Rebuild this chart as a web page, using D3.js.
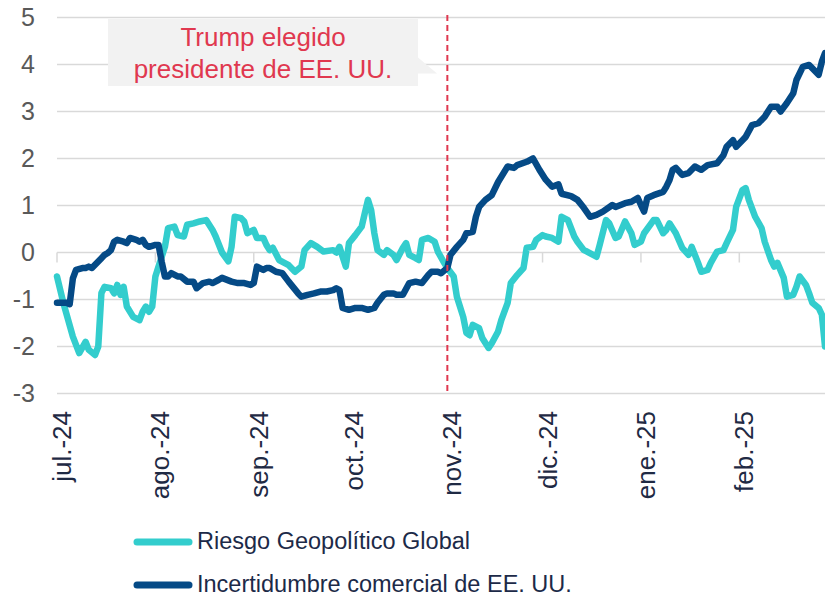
<!DOCTYPE html>
<html>
<head>
<meta charset="utf-8">
<script src="https://cdn.jsdelivr.net/npm/d3@7"></script>
<style>
  body { margin: 0; background: #fff; }
  svg { display: block; font-family: "Liberation Sans", Arial, sans-serif; }
</style>
</head>
<body>
<svg id="chart" width="825" height="596"></svg>
<script>
// day offsets counted from 1 jul. 2024
var START = new Date(2024, 6, 1);
var END = new Date(2025, 1, 28);

var riesgoDays = [0, 2, 5, 7, 9, 10, 12, 13, 14, 15, 17, 18, 19, 20, 21, 22, 24, 26, 27, 28, 29, 30, 31, 32, 34, 35, 37, 38, 40, 41, 43, 45, 47, 49, 50, 52, 54, 55, 56, 58, 59, 60, 62, 63, 65, 66, 67, 68, 70, 73, 75, 77, 78, 80, 82, 84, 87, 88, 89, 90, 91, 92, 94, 96, 97, 98, 99, 100, 101, 103, 104, 106, 107, 109, 110, 111, 113, 114, 115, 117, 119, 120, 122, 123, 125, 126, 128, 129, 130, 131, 133, 134, 136, 137, 139, 140, 142, 143, 145, 147, 148, 150, 151, 153, 154, 156, 158, 159, 161, 163, 164, 166, 167, 170, 171, 173, 174, 176, 177, 179, 181, 182, 184, 185, 188, 189, 191, 192, 193, 195, 197, 199, 200, 202, 203, 205, 206, 208, 210, 211, 213, 214, 216, 217, 218, 220, 222, 223, 225, 226, 227, 229, 230, 232, 233, 234, 236, 237, 238, 240, 241, 242];
var riesgoVals = [-0.51, -1.07, -1.79, -2.14, -1.9, -2.07, -2.18, -2.0, -0.86, -0.73, -0.76, -0.87, -0.69, -0.9, -0.73, -1.15, -1.37, -1.44, -1.26, -1.15, -1.26, -1.15, -0.51, -0.3, 0.12, 0.52, 0.55, 0.37, 0.34, 0.59, 0.62, 0.66, 0.69, 0.48, 0.34, 0.0, -0.19, 0.12, 0.76, 0.73, 0.66, 0.41, 0.48, 0.31, 0.31, 0.16, 0.05, 0.1, -0.16, -0.27, -0.41, -0.3, 0.05, 0.2, 0.12, 0.02, 0.05, 0.0, 0.12, -0.09, -0.3, 0.2, 0.37, 0.55, 0.84, 1.12, 0.9, 0.41, 0.05, -0.05, 0.05, -0.05, -0.16, 0.1, 0.2, -0.05, -0.12, -0.16, 0.27, 0.31, 0.23, 0.02, -0.22, -0.33, -0.51, -0.94, -1.37, -1.71, -1.76, -1.54, -1.61, -1.82, -2.03, -1.93, -1.68, -1.44, -1.07, -0.65, -0.48, -0.33, 0.1, 0.12, 0.27, 0.37, 0.34, 0.31, 0.23, 0.76, 0.69, 0.34, 0.23, 0.05, 0.02, -0.09, 0.16, 0.69, 0.62, 0.31, 0.34, 0.66, 0.41, 0.16, 0.23, 0.41, 0.69, 0.69, 0.41, 0.48, 0.62, 0.41, 0.1, -0.05, 0.12, -0.22, -0.41, -0.37, -0.22, 0.02, 0.05, 0.2, 0.48, 0.97, 1.33, 1.37, 1.12, 0.76, 0.52, 0.23, -0.16, -0.3, -0.22, -0.54, -0.94, -0.9, -0.73, -0.51, -0.69, -0.87, -1.07, -1.18, -1.32, -2.0];

var incertDays = [0, 3, 4, 5, 6, 8, 9, 10, 11, 13, 14, 15, 16, 17, 18, 19, 21, 22, 23, 25, 26, 27, 28, 29, 31, 32, 33, 34, 35, 36, 38, 39, 41, 43, 44, 46, 48, 49, 51, 52, 55, 57, 59, 61, 62, 63, 65, 66, 67, 69, 71, 73, 76, 77, 79, 81, 83, 85, 87, 88, 89, 90, 92, 94, 96, 98, 100, 101, 103, 104, 106, 107, 109, 111, 113, 115, 117, 118, 120, 121, 123, 124, 126, 128, 129, 131, 132, 133, 135, 137, 139, 142, 144, 145, 148, 150, 152, 154, 156, 158, 159, 162, 164, 166, 168, 170, 172, 175, 176, 179, 181, 183, 184, 185, 186, 188, 191, 192, 193, 194, 195, 197, 199, 201, 203, 205, 208, 210, 211, 213, 214, 216, 217, 219, 221, 223, 225, 227, 228, 230, 232, 233, 235, 237, 238, 240, 241, 242];
var incertVals = [-1.07, -1.07, -1.1, -0.55, -0.37, -0.33, -0.33, -0.3, -0.33, -0.19, -0.12, -0.05, -0.01, 0.05, 0.23, 0.27, 0.23, 0.2, 0.31, 0.27, 0.23, 0.27, 0.16, 0.12, 0.16, 0.16, -0.2, -0.51, -0.51, -0.44, -0.51, -0.51, -0.62, -0.62, -0.76, -0.65, -0.62, -0.65, -0.58, -0.54, -0.62, -0.65, -0.65, -0.69, -0.65, -0.3, -0.37, -0.33, -0.33, -0.41, -0.44, -0.62, -0.87, -0.94, -0.9, -0.87, -0.83, -0.83, -0.8, -0.76, -0.8, -1.18, -1.22, -1.18, -1.18, -1.22, -1.18, -1.07, -0.9, -0.87, -0.87, -0.9, -0.9, -0.65, -0.62, -0.65, -0.48, -0.41, -0.41, -0.44, -0.33, -0.05, 0.12, 0.27, 0.41, 0.44, 0.76, 0.97, 1.12, 1.22, 1.5, 1.83, 1.8, 1.86, 1.93, 2.0, 1.76, 1.55, 1.4, 1.45, 1.25, 1.2, 1.12, 0.95, 0.76, 0.8, 0.87, 1.01, 0.97, 1.05, 1.08, 1.16, 1.01, 0.87, 1.16, 1.22, 1.29, 1.4, 1.54, 1.76, 1.8, 1.65, 1.69, 1.83, 1.76, 1.86, 1.9, 2.07, 2.25, 2.39, 2.25, 2.39, 2.46, 2.71, 2.75, 2.89, 3.1, 3.1, 3.0, 3.18, 3.39, 3.67, 3.95, 3.99, 3.92, 3.78, 4.06, 4.24];

var yTicks = [5, 4, 3, 2, 1, 0, -1, -2, -3];
var monthLabels = ["jul.-24", "ago.-24", "sep.-24", "oct.-24", "nov.-24", "dic.-24", "ene.-25", "feb.-25"];
var electionDate = new Date(2024, 10, 1);
var noteLines = ["Trump elegido", "presidente de EE. UU."];
var seriesNames = ["Riesgo Geopolítico Global", "Incertidumbre comercial de EE. UU."];
var seriesColors = ["#33cdcd", "#054a86"];

function toSeries(days, vals) {
    return days.map(function (d, i) {
        return {date: d3.timeDay.offset(START, d), val: vals[i]};
    });
}
var riesgo = toSeries(riesgoDays, riesgoVals);
var incert = toSeries(incertDays, incertVals);

var svg = d3.select("#chart");
var x = d3.scaleTime().domain([START, END]).range([57, 825]);
var y = d3.scaleLinear().domain([-3, 5]).range([393.5, 17.5]);

// grid lines
svg.append("g").selectAll("line")
    .data(yTicks).enter().append("line")
    .attr("x1", 57).attr("x2", 825)
    .attr("y1", function (d) { return y(d); })
    .attr("y2", function (d) { return y(d); })
    .attr("stroke", "#d9d9d9").attr("stroke-width", 1.5);

// plain hyphen for negatives, like the original
var yAxis = d3.axisLeft(y).tickValues(yTicks).tickSize(0).tickPadding(0).tickFormat(function (d) { return String(d); });
var yG = svg.append("g").attr("transform", "translate(35,0)").call(yAxis);
yG.select(".domain").remove();
yG.selectAll("text")
    .attr("fill", "#595959")
    .style("font-size", "25px")
    .style("font-family", "Liberation Sans, Arial, sans-serif");

// month ticks hanging from the zero line + rotated labels
var months = d3.timeMonth.range(START, END);
svg.append("g").selectAll("line")
    .data(months).enter().append("line")
    .attr("x1", function (d) { return x(d); })
    .attr("x2", function (d) { return x(d); })
    .attr("y1", y(0)).attr("y2", y(0) + 10)
    .attr("stroke", "#d9d9d9").attr("stroke-width", 1.5);

svg.append("g").selectAll("text")
    .data(months).enter().append("text")
    .attr("transform", function (d) { return "translate(" + (x(d) + 14) + ",411) rotate(-90)"; })
    .attr("text-anchor", "end")
    .attr("fill", "#1f2a44")
    .style("font-size", "26px")
    .text(function (d, i) { return monthLabels[i]; });

// annotation box
var g = svg.append("g");
g.append("rect")
    .attr("x", 108).attr("y", 19).attr("width", 310).attr("height", 67)
    .attr("fill", "#f2f2f2");
g.append("path")
    .attr("d", "M418,57.5L437,73.5L418,73.5Z")
    .attr("fill", "#f2f2f2");
g.selectAll("text")
    .data(noteLines).enter().append("text")
    .attr("x", 263)
    .attr("y", function (d, i) { return 46 + i * 32; })
    .attr("text-anchor", "middle")
    .attr("fill", "#e0384f")
    .style("font-size", "26px")
    .text(function (d) { return d; });

var line = d3.line()
    .x(function (d) { return x(d.date); })
    .y(function (d) { return y(d.val); });

[riesgo, incert].forEach(function (s, i) {
    svg.append("path")
        .datum(s)
        .attr("d", line)
        .attr("fill", "none")
        .attr("stroke", seriesColors[i])
        .attr("stroke-width", 6.5)
        .attr("stroke-linejoin", "round")
        .attr("stroke-linecap", "round");
});

svg.append("line")
    .attr("x1", x(electionDate)).attr("x2", x(electionDate))
    .attr("y1", 15).attr("y2", 393)
    .attr("stroke", "#e0384f")
    .attr("stroke-width", 2)
    .attr("stroke-dasharray", "6,4");

// legend
var leg = svg.append("g").selectAll("g")
    .data(seriesNames).enter().append("g")
    .attr("transform", function (d, i) { return "translate(0," + (542 + i * 43) + ")"; });
leg.append("line")
    .attr("x1", 137).attr("x2", 189)
    .attr("stroke", function (d, i) { return seriesColors[i]; })
    .attr("stroke-width", 7)
    .attr("stroke-linecap", "round");
leg.append("text")
    .attr("x", 197).attr("y", 7)
    .attr("fill", "#1c2a48")
    .style("font-size", "23.5px")
    .text(function (d) { return d; });
</script>
</body>
</html>
